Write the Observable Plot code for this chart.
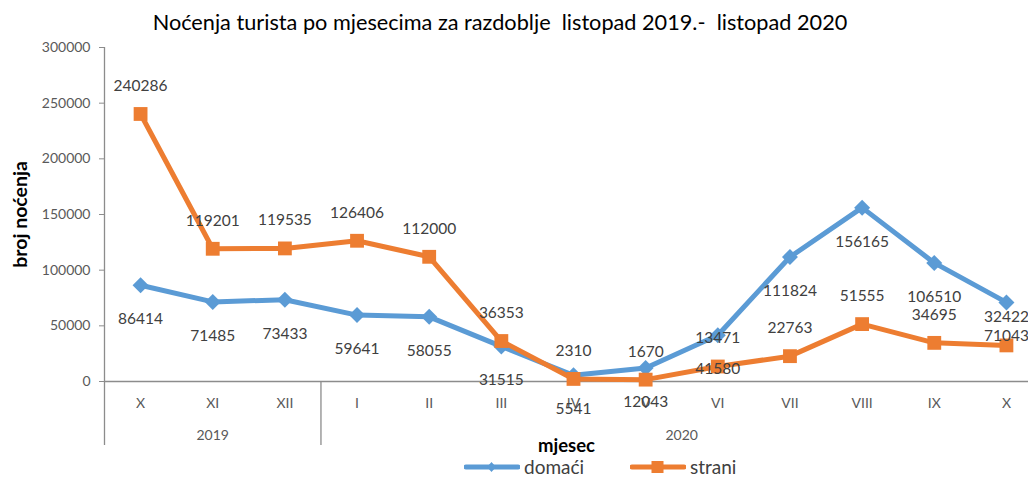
<!DOCTYPE html>
<html><head><meta charset="utf-8">
<script src="https://cdn.jsdelivr.net/npm/d3@7"></script>
<script src="https://cdn.jsdelivr.net/npm/@observablehq/plot@0.6"></script>
<style>
html,body{margin:0;padding:0;background:#fff;overflow:hidden;width:1028px;height:477px}
#title{position:relative;height:34px;box-sizing:border-box;padding-top:10px;line-height:24px;font-family:Lato,sans-serif;font-size:21.7px;color:#000;white-space:pre;text-align:center;width:1000px}
#chart{height:423px}
#legend{position:relative;height:20px;font-family:Lato,sans-serif;font-size:19px;color:#404040}
.item{position:absolute;top:0;height:20px;line-height:20px;display:flex;align-items:center}
.item svg{display:block;margin-right:4px}
</style></head><body>
<div id="title">Noćenja turista po mjesecima za razdoblje  listopad 2019.-  listopad 2020</div>
<div id="chart"></div>
<div id="legend"></div>
<script>
const months = ["X","XI","XII","I","II","III","IV","V","VI","VII","VIII","IX","X"];
const years = ["2019","2020"];
const yearSpans = [3, 10];
const domaci = [86414,71485,73433,59641,58055,31515,5541,12043,41580,111824,156165,106510,71043];
const strani = [240286,119201,119535,126406,112000,36353,2310,1670,13471,22763,51555,34695,32422];
const yTicks = [0,50000,100000,150000,200000,250000,300000];
const seriesNames = ["domaći","strani"];
const yTitle = "broj noćenja";
const xTitle = "mjesec";

const blue = "#5B9BD5", orange = "#ED7D31", axisColor = "#8c8c8c", labelColor = "#404040";

const rows = months.map((m, i) => ({i, m, domaci: domaci[i], strani: strani[i]}));
let start = 0;
const yearRows = years.map((y, k) => { const r = {y, c: start + (yearSpans[k] - 1) / 2, s: start - 0.5}; start += yearSpans[k]; return r; });
const seps = yearRows.slice(1).map(d => d.s);

const chart = Plot.plot({
  width: 1028, height: 423,
  marginLeft: 104, marginRight: 0, marginTop: 13, marginBottom: 76,
  style: {fontFamily: "Lato, sans-serif", background: "white"},
  x: {type: "linear", domain: [-0.5, months.length - 0.5], range: [104, 1042], axis: null},
  y: {domain: [0, 300000]},
  marks: [
    Plot.ruleY([0], {stroke: axisColor, strokeWidth: 1.3}),
    Plot.ruleX([-0.5], {y1: yTicks[yTicks.length - 1], y2: 0, insetBottom: -64, stroke: axisColor, strokeWidth: 1.3}),
    Plot.ruleX(seps, {y1: 0, y2: 0, insetBottom: -64, stroke: axisColor, strokeWidth: 1.3}),
    Plot.axisY(yTicks, {tickSize: 5, tickPadding: 9, tickFormat: d3.format("d"), fontSize: 14, fill: "#595959", stroke: axisColor, label: null}),
    Plot.text(rows, {x: "i", text: "m", frameAnchor: "bottom", lineAnchor: "middle", dy: 22, fontSize: 14, fill: "#595959"}),
    Plot.text(yearRows, {x: "c", text: "y", frameAnchor: "bottom", lineAnchor: "middle", dy: 54, fontSize: 14, fill: "#595959"}),
    Plot.line(rows, {x: "i", y: "domaci", stroke: blue, strokeWidth: 5, strokeLinejoin: "round"}),
    Plot.dot(rows, {x: "i", y: "domaci", symbol: "diamond2", r: 7.2, fill: blue, stroke: null}),
    Plot.line(rows, {x: "i", y: "strani", stroke: orange, strokeWidth: 5, strokeLinejoin: "round"}),
    Plot.dot(rows, {x: "i", y: "strani", symbol: "square", r: 7.8, fill: orange, stroke: null}),
    Plot.text(rows, {x: "i", y: "domaci", text: d => String(d.domaci), dy: 34, fontSize: 15.5, fill: labelColor}),
    Plot.text(rows, {x: "i", y: "strani", text: d => String(d.strani), dy: -28, fontSize: 15.5, fill: labelColor}),
    Plot.text([yTitle], {frameAnchor: "left", textAnchor: "middle", lineAnchor: "middle", rotate: -90, dx: -84, fontSize: 19.5, fontWeight: "bold", fill: "#000"}),
    Plot.text([xTitle], {frameAnchor: "bottom", lineAnchor: "middle", dy: 65, fontSize: 18.5, fontWeight: "bold", fill: "#000"})
  ]
});
document.getElementById("chart").appendChild(chart);

const legend = document.getElementById("legend");
const legendDefs = [
  {name: seriesNames[0], color: blue, left: 464, sym: "diamond"},
  {name: seriesNames[1], color: orange, left: 630, sym: "square"}
];
for (const d of legendDefs) {
  const item = document.createElement("div");
  item.className = "item";
  item.style.left = d.left + "px";
  const shape = d.sym === "diamond"
    ? `<path d="M27.5,5 L32,10 L27.5,15 L23,10 Z" fill="${d.color}"/>`
    : `<rect x="21.5" y="4" width="12" height="12" fill="${d.color}"/>`;
  item.innerHTML = `<svg width="56" height="20"><line x1="2" x2="54" y1="10" y2="10" stroke="${d.color}" stroke-width="5" stroke-linecap="round"/>${shape}</svg><span>${d.name}</span>`;
  legend.appendChild(item);
}
</script>
</body></html>
